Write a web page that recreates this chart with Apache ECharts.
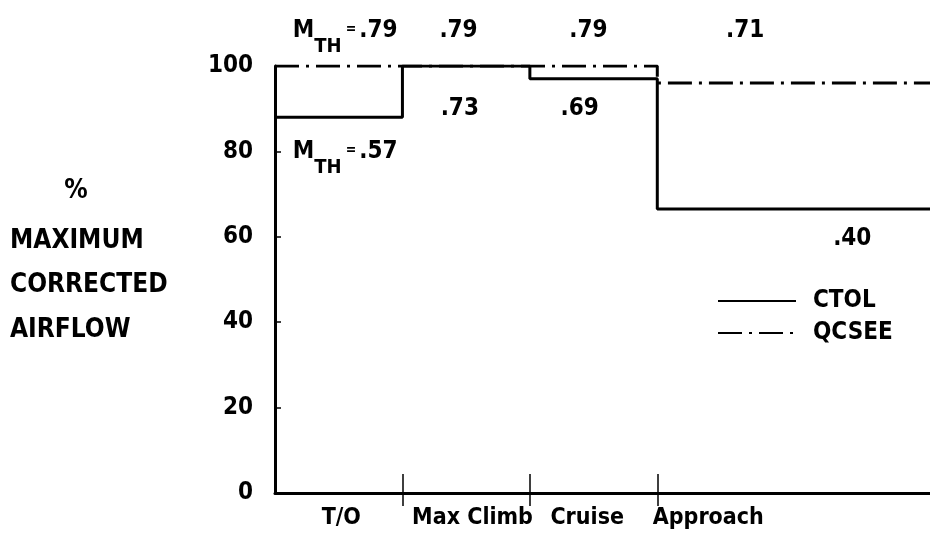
<!DOCTYPE html>
<html>
<head>
<meta charset="utf-8">
<script src="https://cdn.jsdelivr.net/npm/echarts@6/dist/echarts.min.js"></script>
<style>
html, body { margin: 0; padding: 0; background: #fff; }
#main { width: 930px; height: 550px; }
</style>
</head>
<body>
<div id="main"></div>
<script>
// flight conditions along the x axis
var categories = ['T/O', 'Max Climb', 'Cruise', 'Approach'];
// % maximum corrected airflow per condition
var ctolFlow = [88, 100, 97, 66.5];
var qcseeFlow = [100, 100, 100, 96];
// throat Mach numbers written on the plot
var machQcsee = ['.79', '.79', '.79', '.71'];
var machCtol = ['.57', '.73', '.69', '.40'];
var yTicks = [0, 20, 40, 60, 80, 100];

var FONT = "'DejaVu Sans Condensed', 'Liberation Sans Narrow', 'DejaVu Sans', sans-serif";
var WEIGHT = 'bold';
var XMAX = 5.14;            // axis runs off the right edge
var boundaries = [1, 2, 3];
var labelX = [0.52, 1.55, 2.45, 3.4];
// anchors (data units) for the Mach labels
var qcseeLabelPos = [[0.14, 111], [1.44, 111], [2.46, 111], [3.69, 111]];
var ctolLabelPos = [[0.14, 82.7], [1.45, 92.7], [2.39, 92.7], [4.53, 62.3]];

function stepData(vals) {
  var d = vals.map(function (v, i) { return [i, v]; });
  d.push([XMAX, vals[vals.length - 1]]);
  return d;
}

var chartDom = document.getElementById('main');
var myChart = echarts.init(chartDom);
var option;

option = {
  backgroundColor: '#fff',
  animation: false,
  grid: { left: 275, right: 0, top: 66, bottom: 57 },
  legend: {
    orient: 'vertical',
    left: 712,
    top: 284,
    itemWidth: 78,
    itemHeight: 14,
    itemGap: 8,
    data: ['CTOL', 'QCSEE'],
    itemStyle: { color: 'transparent', borderWidth: 0 },
    textStyle: { fontFamily: FONT, fontWeight: WEIGHT, fontSize: 24, color: '#000', padding: [0, 0, 0, 12] }
  },
  xAxis: [
    {
      type: 'value',
      min: 0,
      max: XMAX,
      splitLine: { show: false },
      axisLine: { lineStyle: { color: '#000', width: 3 } },
      axisTick: { customValues: boundaries, length: 13, lineStyle: { color: '#000', width: 1.5 } },
      axisLabel: {
        customValues: labelX,
        margin: 14,
        fontFamily: FONT,
        fontWeight: WEIGHT,
        fontSize: 23,
        color: '#000',
        formatter: function (v) { return categories[Math.floor(v)]; }
      }
    },
    {
      type: 'value',
      position: 'bottom',
      min: 0,
      max: XMAX,
      splitLine: { show: false },
      axisLine: { show: false },
      axisTick: { customValues: boundaries, inside: true, length: 19, lineStyle: { color: '#000', width: 1.5 } },
      axisLabel: { show: false }
    }
  ],
  yAxis: {
    type: 'value',
    min: 0,
    max: 100,
    interval: 20,
    splitLine: { show: false },
    axisLine: { show: true, lineStyle: { color: '#000', width: 3 } },
    axisTick: { show: true, inside: true, length: 6, lineStyle: { color: '#000', width: 1.5 } },
    axisLabel: {
      margin: 22,
      fontFamily: FONT,
      fontWeight: WEIGHT,
      fontSize: 24,
      color: '#000',
      formatter: function (v) { return yTicks.indexOf(v) >= 0 ? String(v) : ''; }
    }
  },
  series: [
    {
      name: 'CTOL',
      type: 'line',
      step: 'end',
      symbol: 'none',
      data: stepData(ctolFlow),
      lineStyle: { color: '#000', width: 3 },
      itemStyle: { color: '#000' }
    },
    {
      name: 'QCSEE',
      type: 'line',
      step: 'end',
      symbol: 'none',
      data: stepData(qcseeFlow),
      lineStyle: { color: '#000', width: 3, type: [24, 7, 3, 7] },
      itemStyle: { color: '#000' }
    }
  ]
};

option && myChart.setOption(option);

// Mach number labels, placed through the axes
var rich = {
  m: { fontFamily: FONT, fontWeight: WEIGHT, fontSize: 24, lineHeight: 38, verticalAlign: 'top', fill: '#000' },
  s: { fontFamily: FONT, fontWeight: WEIGHT, fontSize: 20, lineHeight: 38, verticalAlign: 'bottom', fill: '#000' },
  e: { fontFamily: FONT, fontWeight: WEIGHT, fontSize: 14, lineHeight: 38, verticalAlign: 'top', fill: '#000', padding: [3, 3, 0, 4] }
};

function machText(val, pos, withPrefix) {
  var p = myChart.convertToPixel({ xAxisIndex: 0, yAxisIndex: 0 }, pos);
  return {
    type: 'text',
    x: p[0],
    y: p[1],
    style: {
      text: (withPrefix ? '{m|M}{s|TH}{e|=}' : '') + '{m|' + val + '}',
      rich: rich,
      textAlign: withPrefix ? 'left' : 'center',
      textVerticalAlign: 'top',
      fill: '#000'
    }
  };
}

var graphics = [];
machQcsee.forEach(function (v, i) { graphics.push(machText(v, qcseeLabelPos[i], i === 0)); });
machCtol.forEach(function (v, i) { graphics.push(machText(v, ctolLabelPos[i], i === 0)); });

// y axis title on the left
var titleLines = [['%', 76, 191, 'center'], ['MAXIMUM', 10, 241, 'left'], ['CORRECTED', 10, 285, 'left'], ['AIRFLOW', 10, 330, 'left']];
titleLines.forEach(function (t) {
  graphics.push({
    type: 'text',
    x: t[1],
    y: t[2],
    style: { text: t[0], fontFamily: FONT, fontWeight: WEIGHT, fontSize: 26, fill: '#000', textAlign: t[3], textVerticalAlign: 'middle' }
  });
});

myChart.setOption({ graphic: graphics });
</script>
</body>
</html>
